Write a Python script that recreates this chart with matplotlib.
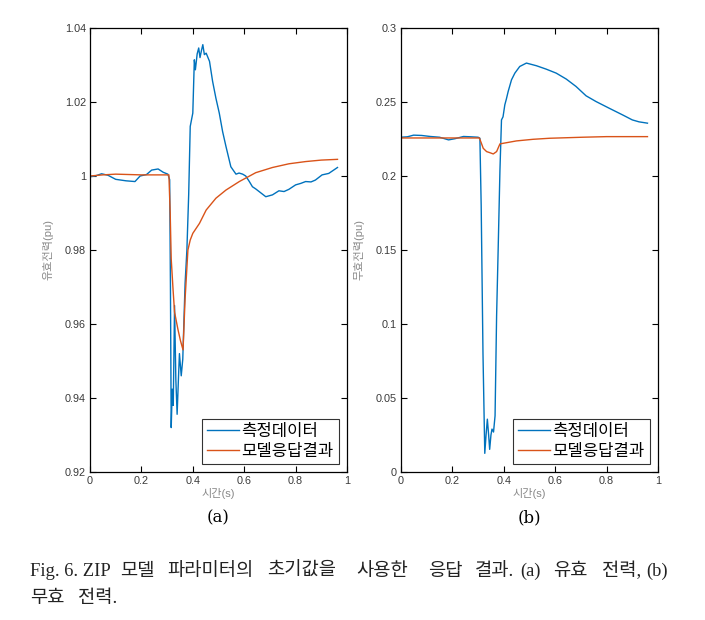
import numpy as np
import matplotlib
matplotlib.use('Agg')
import matplotlib.pyplot as plt

plt.rcParams['font.family'] = ['Liberation Sans', 'Noto Sans CJK KR']

# (a) active power
t_p_meas = [0.0, 0.02, 0.045, 0.07, 0.10, 0.14, 0.175, 0.195, 0.22, 0.24, 0.265, 0.285, 0.303,
            0.31, 0.313, 0.316, 0.320, 0.324, 0.329, 0.334, 0.339, 0.344, 0.348, 0.355, 0.361,
            0.366, 0.370, 0.377, 0.384, 0.39, 0.40, 0.406, 0.41, 0.417, 0.423, 0.428, 0.434,
            0.439, 0.445, 0.452, 0.465, 0.477, 0.49, 0.503, 0.516, 0.529, 0.548, 0.568, 0.58,
            0.594, 0.606, 0.62, 0.632, 0.645, 0.658, 0.684, 0.71, 0.735, 0.755, 0.774, 0.8,
            0.82, 0.839, 0.86, 0.877, 0.903, 0.929, 0.963]
p_meas = [0.9998, 1.0000, 1.0006, 1.0002, 0.9991, 0.9987, 0.9985, 1.0000, 1.0004, 1.0016, 1.0019,
          1.0010, 1.0005, 0.9990, 0.970, 0.932, 0.9424, 0.938, 0.965, 0.945, 0.9356, 0.945, 0.952,
          0.946, 0.9505, 0.962, 0.971, 0.980, 0.995, 1.0134, 1.017, 1.0314, 1.0287, 1.0330,
          1.0346, 1.032, 1.0340, 1.0355, 1.0328, 1.0332, 1.031, 1.0256, 1.021, 1.017, 1.012,
          1.008, 1.0025, 1.0005, 1.0008, 1.0005, 1.000, 0.9985, 0.9971, 0.9965, 0.9958, 0.9944,
          0.9949, 0.996, 0.9958, 0.9964, 0.9976, 0.9980, 0.9985, 0.9984, 0.9989, 1.0003, 1.0007,
          1.0023]
t_p_model = [0, 0.05, 0.1, 0.2, 0.307, 0.312, 0.316, 0.323, 0.329, 0.342, 0.352, 0.362, 0.37,
             0.381, 0.39, 0.40, 0.426, 0.452, 0.49, 0.529, 0.581, 0.645, 0.71, 0.774, 0.839,
             0.9, 0.963]
p_model = [1.0, 1.0003, 1.0005, 1.0003, 1.0003, 0.99, 0.9776, 0.9695, 0.9632, 0.9586, 0.9555,
           0.953, 0.9668, 0.98, 0.9827, 0.9845, 0.9872, 0.9908, 0.994, 0.9962, 0.9985, 1.0009,
           1.0023, 1.0033, 1.0039, 1.0043, 1.0045]

# (b) reactive power
t_q_meas = [0, 0.025, 0.049, 0.08, 0.114, 0.15, 0.185, 0.21, 0.243, 0.27, 0.30, 0.307, 0.312,
            0.319, 0.326, 0.331, 0.336, 0.341, 0.345, 0.350, 0.354, 0.36, 0.366, 0.372, 0.378,
            0.385, 0.391, 0.397, 0.404, 0.41, 0.417, 0.43, 0.443, 0.462, 0.488, 0.527, 0.565,
            0.604, 0.643, 0.681, 0.72, 0.759, 0.81, 0.862, 0.90, 0.926, 0.959]
q_meas = [0.2262, 0.2265, 0.2276, 0.2274, 0.2267, 0.2262, 0.2244, 0.2252, 0.2267, 0.2265, 0.2262,
          0.2255, 0.180, 0.08, 0.0126, 0.025, 0.0357, 0.025, 0.0153, 0.025, 0.029, 0.027, 0.038,
          0.1056, 0.15, 0.204, 0.2379, 0.240, 0.2481, 0.252, 0.2571, 0.265, 0.2695, 0.274,
          0.2763, 0.2745, 0.2722, 0.2695, 0.2655, 0.2605, 0.2542, 0.2503, 0.2458, 0.2413,
          0.2379, 0.2366, 0.2357]
t_q_model = [0, 0.305, 0.312, 0.32, 0.333, 0.345, 0.359, 0.372, 0.385, 0.449, 0.514, 0.578,
             0.707, 0.8, 0.959]
q_model = [0.2257, 0.2257, 0.2225, 0.2187, 0.2165, 0.2158, 0.2149, 0.2165, 0.2217, 0.2237,
           0.2248, 0.2255, 0.2262, 0.2266, 0.2266]

labels = ['측정데이터', '모델응답결과']
blue = '#0072BD'
orange = '#D95319'

# caption words: (text, left x in px, line)
caption = [('Fig. 6. ZIP', 30, 0), ('모델', 120, 0),
           ('파라미터의', 167, 0), ('초기값을', 267, 0), ('사용한', 356, 0), ('응답', 428, 0),
           ('결과.', 475, 0), ('(a)', 520, 0), ('유효', 553, 0), ('전력,', 602, 0),
           ('(b)', 646, 0), ('무효', 30, 1), ('전력.', 78, 1)]

W, H = 705, 620
fig = plt.figure(figsize=(7.05, 6.2), dpi=100)
ax1 = fig.add_axes([90 / W, 1 - 472 / H, 257 / W, 444 / H])
ax2 = fig.add_axes([401 / W, 1 - 472 / H, 257 / W, 444 / H])


def style(ax, ylim, yticks, ylabels, ylab, tag):
    ax.set_xlim(0, 1)
    ax.set_ylim(*ylim)
    ax.set_xticks([0, 0.2, 0.4, 0.6, 0.8, 1])
    ax.set_xticklabels(['0', '0.2', '0.4', '0.6', '0.8', '1'])
    ax.set_yticks(yticks)
    ax.set_yticklabels(ylabels)
    ax.tick_params(direction='in', top=True, right=True, length=4, width=0.8,
                   labelsize=7.8, labelcolor='#3a3a3a', pad=3)
    for s in ax.spines.values():
        s.set_linewidth(0.9)
    ax.set_xlabel('시간(s)', fontsize=8, color='#888888', labelpad=1)
    ax.set_ylabel(ylab, fontsize=8, color='#888888', labelpad=8)
    leg = ax.legend(labels, loc='lower right', fontsize=12, frameon=True, fancybox=False,
                    edgecolor='black', handlelength=1.9, borderpad=0.3, labelspacing=0.3,
                    handletextpad=0.15, borderaxespad=0.5)
    leg.get_frame().set_linewidth(0.8)
    ax.text(0.5, -0.085, tag, transform=ax.transAxes, ha='center', va='top',
            fontsize=12, family=['DejaVu Serif'])


ax1.plot(t_p_meas, p_meas, color=blue, lw=1.0)
ax1.plot(t_p_model, p_model, color=orange, lw=1.0)
style(ax1, (0.92, 1.04), [0.92, 0.94, 0.96, 0.98, 1.0, 1.02, 1.04],
      ['0.92', '0.94', '0.96', '0.98', '1', '1.02', '1.04'], '유효전력(pu)', '(a)')

ax2.plot(t_q_meas, q_meas, color=blue, lw=1.0)
ax2.plot(t_q_model, q_model, color=orange, lw=1.0)
style(ax2, (0, 0.3), [0, 0.05, 0.1, 0.15, 0.2, 0.25, 0.3],
      ['0', '0.05', '0.1', '0.15', '0.2', '0.25', '0.3'], '무효전력(pu)', '(b)')

baselines = [576, 603]
for word, x, line in caption:
    latin = all(ord(c) < 128 for c in word)
    fig.text(x / W, 1 - baselines[line] / H, word, ha='left', va='baseline',
             fontsize=13.3 if latin else 13.5, color='#222222',
             family=['Liberation Serif', 'Noto Sans CJK KR'])

fig.savefig('out.png', dpi=100)
